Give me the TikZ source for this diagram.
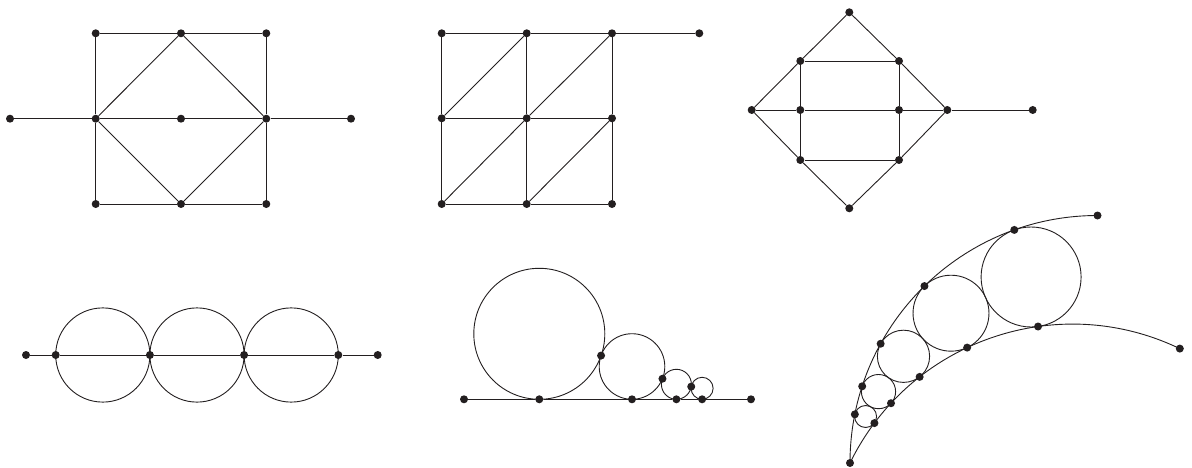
\documentclass[tikz,border=0pt]{standalone}
\usetikzlibrary{calc}
\definecolor{ink}{HTML}{231F20}
\begin{document}
\begin{tikzpicture}[x=1pt,y=-1pt,
  dot/.style={circle,fill=ink,draw=none,inner sep=0pt,minimum size=8pt},
  edge/.style={draw=ink,line width=0.9pt},
  ring/.style={draw=ink,line width=0.9pt}]
\useasboundingbox (0,0) rectangle (1192,468);

% ---------- Graph 1 ----------
\node[dot] (a11) at (95.7,33.3) {};
\node[dot] (a12) at (181,33.3) {};
\node[dot] (a13) at (266.3,33.3) {};
\node[dot] (a20) at (10,118.7) {};
\node[dot] (a21) at (95.7,118.7) {};
\node[dot] (a22) at (181,118.7) {};
\node[dot] (a23) at (266.3,118.7) {};
\node[dot] (a24) at (351,118.7) {};
\node[dot] (a31) at (95.7,204) {};
\node[dot] (a32) at (181,204) {};
\node[dot] (a33) at (266.3,204) {};
\draw[edge] (a11)--(a12)--(a13)--(a23)--(a33)--(a32)--(a31)--(a21)--(a11);
\draw[edge] (a21)--(a12)--(a23)--(a32)--(a21);
\draw[edge] (a20)--(a21)--(a22)--(a23)--(a24);

% ---------- Graph 2 ----------
\node[dot] (b11) at (441.7,33.3) {};
\node[dot] (b12) at (526.7,33.3) {};
\node[dot] (b13) at (612,33.3) {};
\node[dot] (b14) at (699.3,33.3) {};
\node[dot] (b21) at (441.7,118.3) {};
\node[dot] (b22) at (526.7,118.3) {};
\node[dot] (b23) at (612,118.3) {};
\node[dot] (b31) at (441.7,204) {};
\node[dot] (b32) at (526.7,204) {};
\node[dot] (b33) at (612,204) {};
\draw[edge] (b11)--(b12)--(b13)--(b14);
\draw[edge] (b21)--(b22)--(b23);
\draw[edge] (b31)--(b32)--(b33);
\draw[edge] (b11)--(b21)--(b31);
\draw[edge] (b12)--(b22)--(b32);
\draw[edge] (b13)--(b23)--(b33);
\draw[edge] (b21)--(b12);
\draw[edge] (b22)--(b13);
\draw[edge] (b31)--(b22);
\draw[edge] (b32)--(b23);

% ---------- Graph 3 ----------
\node[dot] (ctop) at (849.3,12.3) {};
\node[dot] (cul) at (800.3,61) {};
\node[dot] (cur) at (899,61) {};
\node[dot] (cl) at (751.7,110) {};
\node[dot] (cml) at (800.3,110) {};
\node[dot] (cmr) at (899,110) {};
\node[dot] (cr) at (947.3,110) {};
\node[dot] (cfar) at (1032.7,110) {};
\node[dot] (cll) at (800.3,160) {};
\node[dot] (clr) at (899,160) {};
\node[dot] (cbot) at (849.3,208.3) {};
\draw[edge] (ctop)--(cul)--(cl)--(cll)--(cbot)--(clr)--(cr)--(cur)--(ctop);
\draw[edge] (cul)--(cur)--(cmr)--(clr)--(cll)--(cml)--(cul);
\draw[edge] (cl)--(cml)--(cmr)--(cr)--(cfar);

% ---------- Graph 4 ----------
\draw[ring] (102.8,355) circle[radius=47.1pt];
\draw[ring] (197.0,355) circle[radius=47.1pt];
\draw[ring] (291.2,355) circle[radius=47.1pt];
\node[dot] (d0) at (26,355) {};
\node[dot] (d1) at (55.7,355) {};
\node[dot] (d2) at (149.9,355) {};
\node[dot] (d3) at (244.1,355) {};
\node[dot] (d4) at (338.3,355) {};
\node[dot] (d5) at (377.7,355) {};
\draw[edge] (d0)--(d1)--(d2)--(d3)--(d4)--(d5);

% ---------- Graph 5 ----------
\coordinate (e1c) at (539.3,333.8);
\coordinate (e2c) at (632.0,366.5);
\coordinate (e3c) at (676.4,384.3);
\coordinate (e4c) at (702.1,388.3);
\draw[ring] (e1c) circle[radius=65.5pt];
\draw[ring] (e2c) circle[radius=32.8pt];
\draw[ring] (e3c) circle[radius=15pt];
\draw[ring] (e4c) circle[radius=11pt];
\node[dot] (e0) at (464,399.3) {};
\node[dot] (e1) at (539.3,399.3) {};
\node[dot] (e2) at (632.0,399.3) {};
\node[dot] (e3) at (676.4,399.3) {};
\node[dot] (e4) at (702.1,399.3) {};
\node[dot] (e5) at (751,399.3) {};
\draw[edge] (e0)--(e1)--(e2)--(e3)--(e4)--(e5);
\node[dot] (e12) at ($(e1c)!{65.5/(65.5+32.8)}!(e2c)$) {};
\node[dot] (e23) at ($(e2c)!{32.8/(32.8+15)}!(e3c)$) {};
\node[dot] (e34) at ($(e3c)!{15/(15+11)}!(e4c)$) {};

% ---------- Graph 6 ----------
\coordinate (O1) at (1097.5,463);
\coordinate (O2) at (1072.4,571.6);
\coordinate (f0c) at (1031.1,277.0);
\coordinate (f1c) at (951.0,313.2);
\coordinate (f2c) at (903.5,356.3);
\coordinate (f3c) at (878.5,391.6);
\coordinate (f4c) at (865.6,416.5);
\node[dot] (fA) at (850,463) {};
\node[dot] (fC) at (1097.5,215.5) {};
\node[dot] (fE) at (1179.8,348.6) {};
\draw[edge] (fA.center) arc[start angle=180,end angle=90,radius=247.5pt];
\draw[edge] (fA.center) arc[start angle=153.97,end angle=64.27,radius=247.5pt];
\draw[ring] (f0c) circle[radius=50pt];
\draw[ring] (f1c) circle[radius=37.98pt];
\draw[ring] (f2c) circle[radius=26.12pt];
\draw[ring] (f3c) circle[radius=17.12pt];
\draw[ring] (f4c) circle[radius=10.98pt];
\node[dot] (fo0) at ($(O1)!247.5pt!(f0c)$) {};
\node[dot] (fo1) at ($(O1)!247.5pt!(f1c)$) {};
\node[dot] (fo2) at ($(O1)!247.5pt!(f2c)$) {};
\node[dot] (fo3) at ($(O1)!247.5pt!(f3c)$) {};
\node[dot] (fo4) at ($(O1)!247.5pt!(f4c)$) {};
\node[dot] (fi0) at ($(O2)!247.5pt!(f0c)$) {};
\node[dot] (fi1) at ($(O2)!247.5pt!(f1c)$) {};
\node[dot] (fi2) at ($(O2)!247.5pt!(f2c)$) {};
\node[dot] (fi3) at ($(O2)!247.5pt!(f3c)$) {};
\node[dot] (fi4) at ($(O2)!247.5pt!(f4c)$) {};
\end{tikzpicture}
\end{document}
